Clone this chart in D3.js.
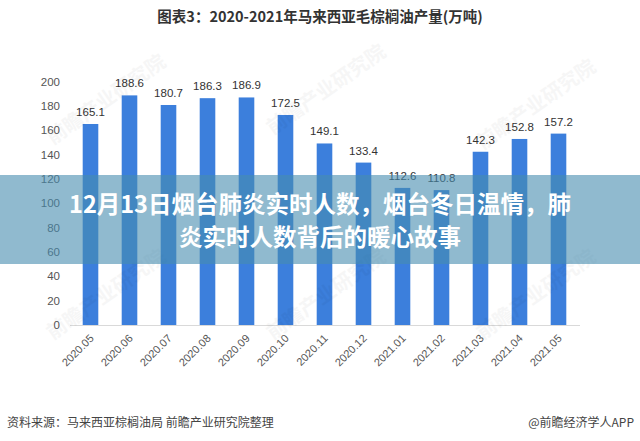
<!DOCTYPE html>
<html><head><meta charset="utf-8">
<script src="https://cdn.jsdelivr.net/npm/d3@7/dist/d3.min.js"></script>
<style>
html,body{margin:0;padding:0;background:#fff;}
svg{display:block;font-family:"Noto Sans CJK SC","Microsoft YaHei",sans-serif;}
</style></head>
<body>
<svg id="chart" width="640" height="441"></svg>
<script>
const categories = ["2020.05","2020.06","2020.07","2020.08","2020.09","2020.10","2020.11","2020.12","2021.01","2021.02","2021.03","2021.04","2021.05"];
const values = [165.1,188.6,180.7,186.3,186.9,172.5,149.1,133.4,112.6,110.8,142.3,152.8,157.2];
const yTicks = [0,20,40,60,80,100,120,140,160,180,200];
const chartTitle = "图表3：2020-2021年马来西亚毛棕榈油产量(万吨)";
const overlayLines = ["12月13日烟台肺炎实时人数，烟台冬日温情，肺","炎实时人数背后的暖心故事"];
const sourceText = "资料来源：马来西亚棕榈油局 前瞻产业研究院整理";
const creditText = "@前瞻经济学人APP";
const watermarkText = "前瞻产业研究院";

const svg = d3.select("#chart");
const x = d3.scaleBand().domain(categories).range([71, 578]).paddingInner(0.6).paddingOuter(0.3);
const y = d3.scaleLinear().domain([0, 200]).range([325, 81.5]);

// title
svg.append("text").attr("x", 320).attr("y", 22).attr("text-anchor", "middle")
  .attr("font-size", 14.5).attr("font-weight", "bold").attr("fill", "#333")
  .text(chartTitle);

// y axis labels
const yAxis = d3.axisLeft(y).tickValues(yTicks).tickSize(0).tickPadding(0);
const gy = svg.append("g").attr("transform", "translate(60,0)").call(yAxis);
gy.select(".domain").remove();
gy.selectAll("text").attr("font-size", 11.5).attr("fill", "#555").attr("font-family", "'Liberation Sans',Arial,sans-serif");

// baseline
svg.append("line").attr("x1", 70).attr("x2", 580).attr("y1", y(0)+0.5).attr("y2", y(0)+0.5)
  .attr("stroke", "#d9d9d9").attr("stroke-width", 1);

// bars
svg.append("g").selectAll("rect").data(values).join("rect")
  .attr("x", (d,i) => x(categories[i]))
  .attr("width", x.bandwidth())
  .attr("y", d => y(d))
  .attr("height", d => y(0) - y(d))
  .attr("fill", "#3c7fdc");

// value labels
svg.append("g").selectAll("text").data(values).join("text")
  .attr("x", (d,i) => x(categories[i]) + x.bandwidth()/2)
  .attr("y", d => y(d) - 8)
  .attr("text-anchor", "middle")
  .attr("font-size", 11.5).attr("fill", "#333")
  .attr("font-family", "'Liberation Sans',Arial,sans-serif")
  .text(d => d.toFixed(1));

// x axis labels
const xAxis = d3.axisBottom(x).tickSize(0).tickPadding(0);
const gx = svg.append("g").attr("transform", "translate(0,325)").call(xAxis);
gx.select(".domain").remove();
gx.selectAll("text")
  .attr("font-size", 11).attr("fill", "#555")
  .attr("font-family", "'Liberation Sans',Arial,sans-serif")
  .attr("text-anchor", "end")
  .attr("dy", 0)
  .attr("transform", "translate(4,14) rotate(-45)");

// faint watermarks
const wm = [[110,105],[330,95],[540,110],[110,300],[330,300],[540,300]];
svg.append("g").selectAll("text").data(wm).join("text")
  .attr("transform", d => `translate(${d[0]},${d[1]}) rotate(-35)`)
  .attr("text-anchor", "middle").attr("font-size", 20).attr("font-weight", "bold")
  .attr("fill", "#000").attr("opacity", 0.03)
  .text(watermarkText);

// overlay band
svg.append("rect").attr("x", 0).attr("y", 175).attr("width", 640).attr("height", 89)
  .attr("fill", "rgb(70,140,175)").attr("opacity", 0.6);
svg.append("g").selectAll("text").data(overlayLines).join("text")
  .attr("x", 320).attr("y", (d,i) => 213 + i*33)
  .attr("text-anchor", "middle").attr("font-size", 23.5).attr("font-weight", "bold")
  .attr("fill", "#fff")
  .text(d => d);

// footer
svg.append("text").attr("x", 7).attr("y", 427).attr("font-size", 12).attr("fill", "#444").text(sourceText);
svg.append("text").attr("x", 634).attr("y", 427).attr("text-anchor", "end").attr("font-size", 12).attr("fill", "#444").text(creditText);
</script>
</body></html>
